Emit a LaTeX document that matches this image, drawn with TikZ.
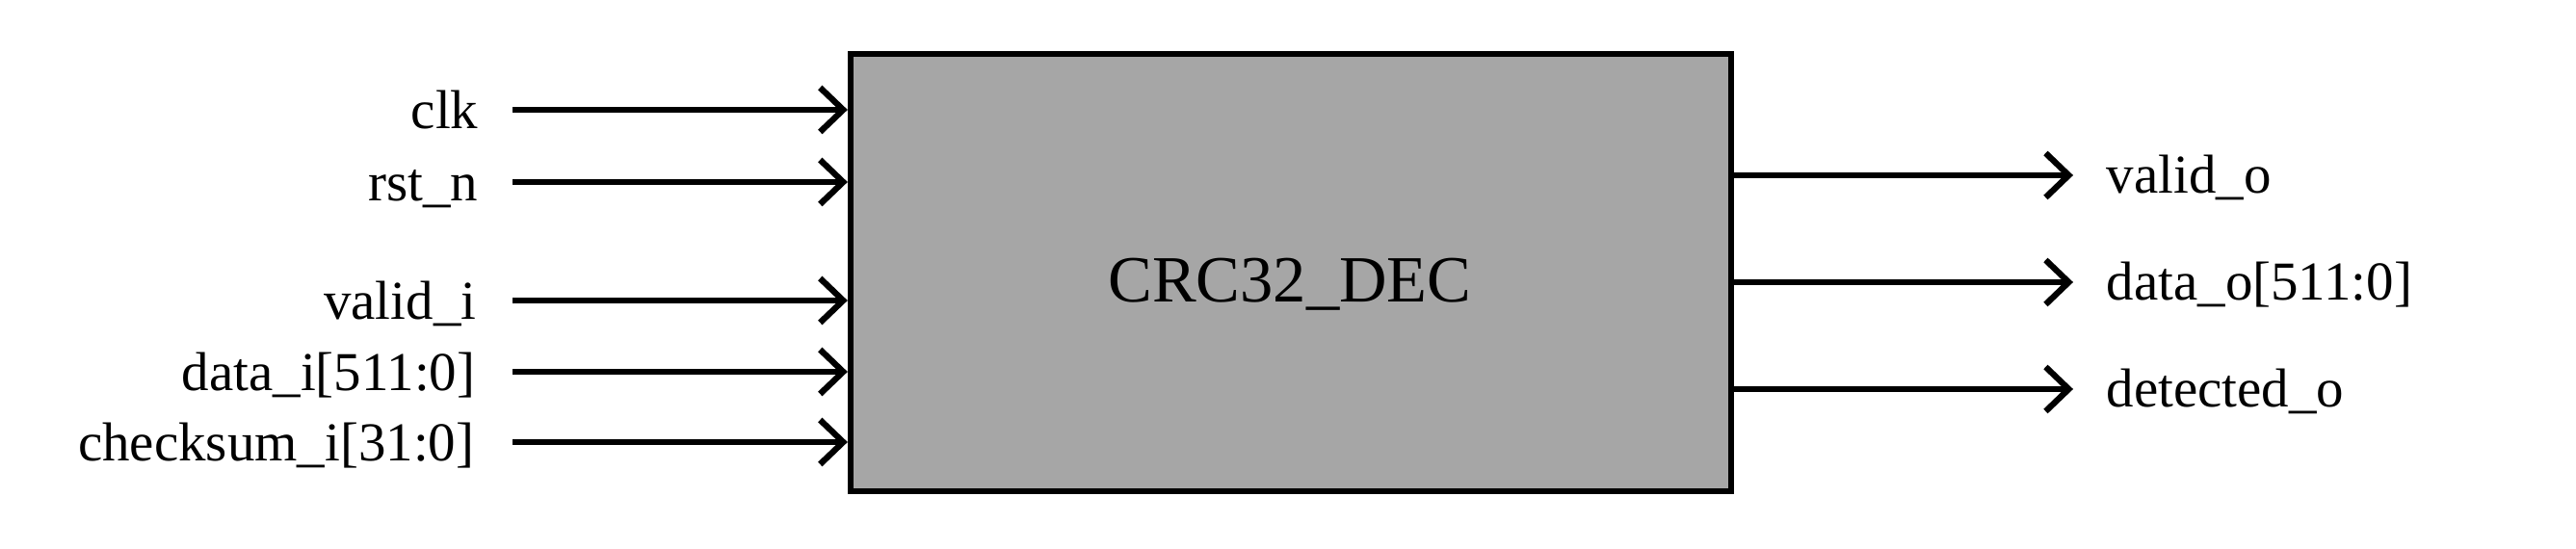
\documentclass[tikz,border=0pt]{standalone}
\usepackage{fontspec}
\setmainfont{Liberation Serif}
\usetikzlibrary{arrows.meta}
\definecolor{boxgray}{RGB}{166,166,166}
\tikzset{
  sig/.style={line width=1.8pt, -{Straight Barb[length=0.24cm, width=0.46cm, line width=1.8pt]}},
  lbl/.style={inner sep=0pt, font=\fontsize{16.2}{18}\selectfont},
  blk/.style={draw, line width=1.8pt, fill=boxgray, inner sep=0pt},
}
\begin{document}
\begin{tikzpicture}
\useasboundingbox (0,0) rectangle (26.74,-5.70);
\node[blk, minimum width=9.14cm, minimum height=4.54cm] (box) at (13.40,-2.83) {};
\node[font=\fontsize{19.5}{22}\selectfont, inner sep=0pt] (title) at (13.39,-2.95) {CRC32\_DEC};
% inputs (baseline 0.20cm below the arrow)
\node[lbl, anchor=base east] (clk) at (4.97,-1.34) {clk};
\node[lbl, anchor=base east] (rst) at (4.97,-2.09) {rst\_n};
\node[lbl, anchor=base east] (vi) at (4.95,-3.32) {valid\_i};
\node[lbl, anchor=base east] (di) at (4.94,-4.06) {data\_i[511:0]};
\node[lbl, anchor=base east] (ci) at (4.93,-4.79) {checksum\_i[31:0]};
\draw[sig] ([xshift=0.35cm, yshift=0.20cm]clk.base east) -- ([yshift=0.20cm]clk.base east -| box.west);
\draw[sig] ([xshift=0.35cm, yshift=0.20cm]rst.base east) -- ([yshift=0.20cm]rst.base east -| box.west);
\draw[sig] ([xshift=0.37cm, yshift=0.20cm]vi.base east) -- ([yshift=0.20cm]vi.base east -| box.west);
\draw[sig] ([xshift=0.38cm, yshift=0.20cm]di.base east) -- ([yshift=0.20cm]di.base east -| box.west);
\draw[sig] ([xshift=0.39cm, yshift=0.20cm]ci.base east) -- ([yshift=0.20cm]ci.base east -| box.west);
% outputs
\node[lbl, anchor=base west] (vo) at (21.86,-2.01) {valid\_o};
\node[lbl, anchor=base west] (do) at (21.86,-3.12) {data\_o[511:0]};
\node[lbl, anchor=base west] (dto) at (21.86,-4.23) {detected\_o};
\draw[sig] ([yshift=0.19cm]vo.base west -| box.east) -- ([xshift=-0.34cm, yshift=0.19cm]vo.base west);
\draw[sig] ([yshift=0.19cm]do.base west -| box.east) -- ([xshift=-0.34cm, yshift=0.19cm]do.base west);
\draw[sig] ([yshift=0.19cm]dto.base west -| box.east) -- ([xshift=-0.34cm, yshift=0.19cm]dto.base west);
\end{tikzpicture}
\end{document}
